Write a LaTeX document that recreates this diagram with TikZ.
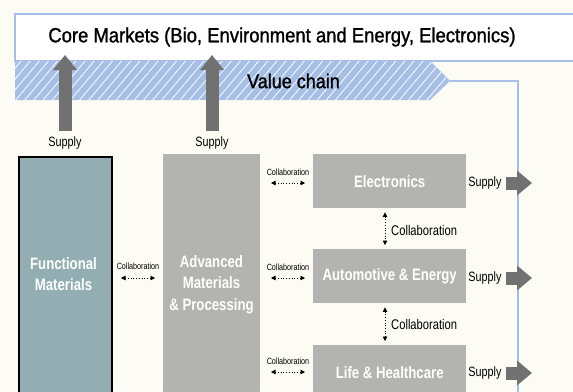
\documentclass[tikz,border=0pt]{standalone}
\usepackage{fontspec}
\setmainfont{Liberation Sans}[FakeStretch=0.8]
\newfontfamily\medfont{Liberation Sans}[FakeStretch=0.9, FakeBold=1.2]
\usetikzlibrary{arrows.meta,patterns.meta}
\definecolor{bg}{HTML}{FCFCF5}
\definecolor{bluel}{HTML}{A6BFE6}
\definecolor{grayarrow}{HTML}{717171}
\definecolor{boxgray}{HTML}{B3B3B2}
\definecolor{teal}{HTML}{92AEB2}
\tikzset{
  bigup/.style={line width=13pt, draw=grayarrow, -{Triangle[width=23pt,length=15pt]}},
  bigright/.style={line width=13pt, draw=grayarrow, -{Triangle[width=24pt,length=15pt]}},
  collab/.style={dotted, line width=0.7pt, {Triangle[width=4.5pt,length=4.5pt]}-{Triangle[width=4.5pt,length=4.5pt]}},
  smalllab/.style={font=\fontsize{9}{10}\selectfont, inner sep=0pt},
  midlab/.style={font=\fontsize{14}{15}\selectfont, inner sep=0pt},
  supply/.style={font=\fontsize{13.5}{15}\selectfont, inner sep=0pt},
  boxtext/.style={text=white, font=\fontsize{16.5}{21.5}\selectfont\bfseries, align=center},
}
\begin{document}
\begin{tikzpicture}[x=1pt,y=-1pt]
\useasboundingbox (0,0) rectangle (573,391);
\fill[bg] (0,0) rectangle (573,391);
% top box
\draw[bluel, line width=1.5pt, fill=white] (580,14) -- (15,14) -- (15,61) -- (580,61);
\node[font=\fontsize{20.5}{24}\selectfont\medfont, inner sep=0pt] (core) at (282,37) {Core Markets (Bio, Environment and Energy, Electronics)};
% value chain band
\fill[bluel] (15,61) -- (430,61) -- (450,81) -- (430,100) -- (15,100) -- cycle;
\fill[pattern={Lines[angle=50,distance=7pt,line width=0.8pt]}, pattern color=white] (15,61) -- (430,61) -- (450,81) -- (430,100) -- (15,100) -- cycle;
\coordinate (vctip) at (450,81);
\node[font=\fontsize{20}{24}\selectfont\medfont, inner sep=0pt] (vc) at (293.5,81) {Value chain};
\coordinate (frame) at (518,81);
\coordinate (framebot) at (518,392);
\draw[bluel, line width=1.5pt] (vctip) -- (frame) -- (framebot);
% boxes
\node[draw=black, line width=2pt, fill=teal, minimum width=93pt, minimum height=240pt, anchor=north west, inner sep=0pt] (fm) at (18,156) {};
\node[boxtext] at (63.5,274) {Functional\\Materials};
\node[fill=boxgray, minimum width=97pt, minimum height=240pt, anchor=north west, inner sep=0pt] (amp) at (163,154) {};
\node[boxtext] at (211.5,284.5) {Advanced\\Materials\\\& Processing};
\node[fill=boxgray, minimum width=153pt, minimum height=54pt, anchor=north west, inner sep=0pt, boxtext] (elec) at (313,154) {Electronics};
\node[fill=boxgray, minimum width=153pt, minimum height=54pt, anchor=north west, inner sep=0pt, boxtext] (auto) at (313,249) {Automotive \& Energy};
\node[fill=boxgray, minimum width=153pt, minimum height=54pt, anchor=north west, inner sep=0pt, boxtext] (life) at (313,345) {Life \& Healthcare};
% supply up arrows
\node[supply] (s1) at (65,143) {Supply};
\node[supply] (s2) at (212,143) {Supply};
\coordinate (t1) at (65,55);
\coordinate (t2) at (212,55);
\draw[bigup] ([yshift=6pt]s1.north) -- (t1);
\draw[bigup] ([yshift=6pt]s2.north) -- (t2);
% supply right arrows
\foreach \n/\y in {elec/183, auto/278, life/373}{
  \node[supply] (s\n) at (485,\y) {Supply};
  \coordinate (e\n) at (532,\y);
  \draw[bigright] ([xshift=4pt]s\n.east) -- (e\n);
}
% horizontal collaborations
\node[smalllab] (c0) at (138,266) {Collaboration};
\coordinate (c0a) at (121,278); \coordinate (c0b) at (155,278);
\draw[collab] (c0a) -- (c0b);
\foreach \n/\y in {elec/172, auto/267, life/361}{
  \node[smalllab] (c\n) at (288,\y) {Collaboration};
  \draw[collab] ([xshift=-17pt,yshift=-11pt]c\n.center) -- ([xshift=17pt,yshift=-11pt]c\n.center);
}
% vertical collaborations
\draw[collab] ([yshift=-4pt]elec.south -| 385,0) -- ([yshift=4pt]auto.north -| 385,0);
\node[midlab, anchor=west] (v1) at (391,230) {Collaboration};
\draw[collab] ([yshift=-4pt]auto.south -| 385,0) -- ([yshift=4pt]life.north -| 385,0);
\node[midlab, anchor=west] (v2) at (391,324) {Collaboration};
\end{tikzpicture}
\end{document}
